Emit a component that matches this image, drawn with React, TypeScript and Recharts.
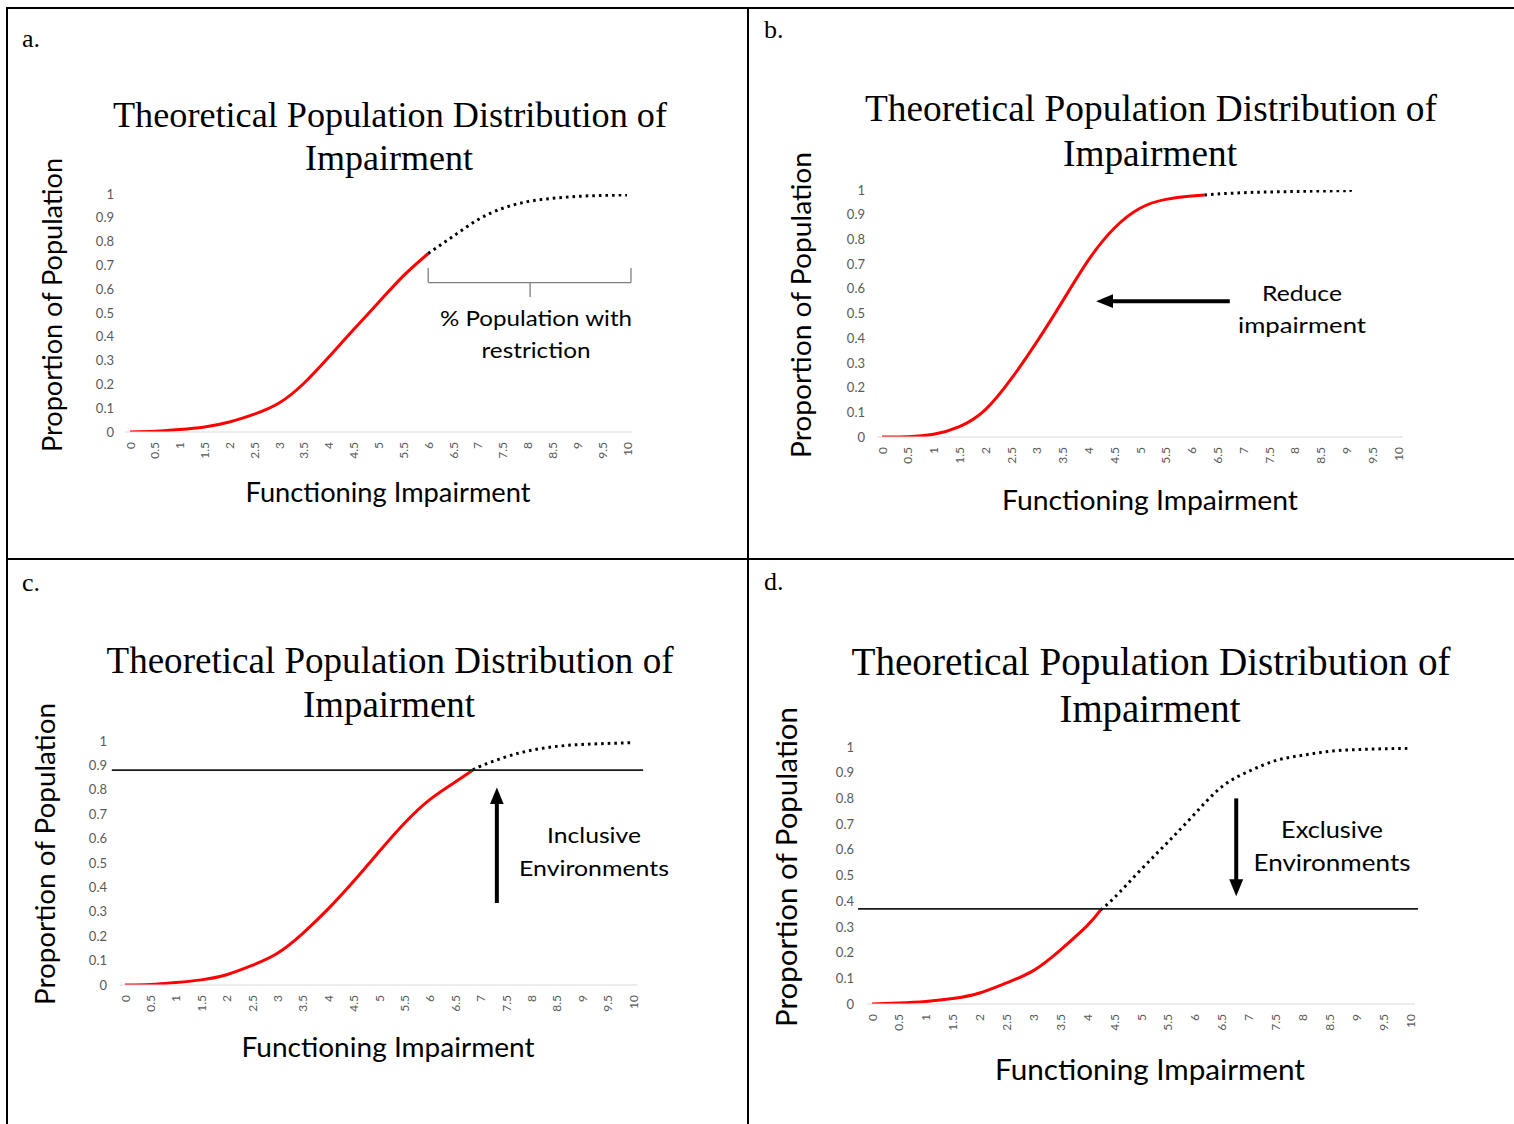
import React from 'react';
import { LineChart, Line, XAxis, YAxis, ReferenceLine } from 'recharts';

// ---------- data ----------
const X_TICKS = [0, 0.5, 1, 1.5, 2, 2.5, 3, 3.5, 4, 4.5, 5, 5.5, 6, 6.5, 7, 7.5, 8, 8.5, 9, 9.5, 10];
const Y_TICKS = [0, 0.1, 0.2, 0.3, 0.4, 0.5, 0.6, 0.7, 0.8, 0.9, 1];

const TITLE_LINE1 = 'Theoretical Population Distribution of';
const TITLE_LINE2 = 'Impairment';
const X_TITLE = 'Functioning Impairment';
const Y_TITLE = 'Proportion of Population';

// panel a
const aSolidX = [0, 0.5, 1, 1.5, 2, 2.5, 3, 3.5, 4, 4.5, 5, 5.5, 6];
const aSolidY = [0, 0.003, 0.01, 0.021, 0.042, 0.075, 0.122, 0.205, 0.315, 0.431, 0.544, 0.656, 0.75];
const aDotX = [6, 6.5, 7, 7.5, 8, 8.5, 9, 9.5, 10];
const aDotY = [0.75, 0.822, 0.892, 0.94, 0.968, 0.982, 0.99, 0.994, 0.996];
// bracket
const aBracketY = [0.689, 0.628, 0.567];
const aBracketX = [6.0, 8.05, 10.08];

// panel b
const bSolidX = [0, 0.5, 1, 1.5, 2, 2.5, 3, 3.5, 4, 4.5, 5, 5.5, 6, 6.25];
const bSolidY = [0, 0.001, 0.011, 0.042, 0.11, 0.234, 0.385, 0.55, 0.716, 0.845, 0.926, 0.962, 0.976, 0.98];
const bDotX = [6.25, 6.5, 7, 7.5, 8, 8.5, 9, 9.07];
const bDotY = [0.98, 0.984, 0.989, 0.992, 0.994, 0.996, 0.997, 0.998];
const bArrowFrom = [6.74, 0.55];
const bArrowTo = [4.47, 0.55];

// panel c
const cSolidX = [0, 0.5, 1, 1.5, 2, 2.5, 3, 3.5, 4, 4.5, 5, 5.5, 6, 6.5, 6.85];
const cSolidY = [0, 0.002, 0.01, 0.021, 0.042, 0.08, 0.13, 0.212, 0.312, 0.425, 0.546, 0.663, 0.76, 0.832, 0.881];
const cDotX = [6.85, 7, 7.5, 8, 8.5, 9, 9.5, 10];
const cDotY = [0.881, 0.897, 0.935, 0.962, 0.978, 0.986, 0.99, 0.993];
const cLevel = 0.881;
const cLevelX = [-0.26, 10.2];
const cArrowFrom = [7.32, 0.336];
const cArrowTo = [7.32, 0.742];

// panel d
const dSolidX = [0, 0.5, 1, 1.5, 2, 2.5, 3, 3.5, 4, 4.25];
const dSolidY = [0, 0.004, 0.01, 0.021, 0.043, 0.082, 0.13, 0.21, 0.305, 0.366];
const dDotX = [4.25, 4.5, 5, 5.5, 6, 6.5, 7, 7.5, 8, 8.5, 9, 9.5, 10];
const dDotY = [0.366, 0.413, 0.523, 0.63, 0.74, 0.845, 0.905, 0.947, 0.968, 0.983, 0.99, 0.993, 0.995];
const dLevel = 0.37;
const dLevelX = [-0.26, 10.15];
const dArrowFrom = [6.77, 0.8];
const dArrowTo = [6.77, 0.483];

const zip = (xs: number[], ys: number[]) => xs.map((x, i) => ({ x, y: ys[i] }));

// ---------- layout ----------
const SANS = 'Lato, "Open Sans", sans-serif';
const SERIF = '"Liberation Serif", "Times New Roman", serif';
const TICK_GREY = '#595959';

type PanelCfg = {
  xL: number; xR: number; yT: number; yB: number; yLabelRight: number;
  solid: { x: number; y: number }[]; dot: { x: number; y: number }[];
  extras: React.ReactNode[];
};

const XTick = (props: any) => {
  const { x, y, payload } = props;
  return (
    <text x={x} y={y} transform={`rotate(-90 ${x} ${y})`} textAnchor="end" dominantBaseline="central"
      fontSize={12} fill={TICK_GREY} fontFamily={SANS}>{String(payload.value)}</text>
  );
};

const YW = 50, PADX = 5, RM = 14, TM = 12, XH = 34;

const Panel = ({ cfg }: { cfg: PanelCfg }) => {
  const left = cfg.xL - PADX - YW;
  const top = cfg.yT - TM;
  const width = YW + PADX * 2 + (cfg.xR - cfg.xL) + RM;
  const height = TM + (cfg.yB - cfg.yT) + XH;
  return (
    <div style={{ position: 'absolute', left, top, width, height }}>
      <LineChart width={width} height={height} margin={{ top: TM, right: RM, bottom: 0, left: 0 }}>
        <XAxis type="number" dataKey="x" domain={[0, 10]} ticks={X_TICKS} interval={0} padding={{ left: PADX, right: PADX }}
          height={XH} tickSize={0} tickMargin={10} tick={<XTick />} axisLine={{ stroke: '#d9d9d9', strokeWidth: 1 }} tickLine={false} allowDataOverflow />
        <YAxis type="number" domain={[0, 1]} ticks={Y_TICKS} interval={0} width={YW} tickSize={0}
          tickMargin={cfg.xL - PADX - cfg.yLabelRight} axisLine={false} tickLine={false} allowDataOverflow
          tick={{ fontSize: 13, fill: TICK_GREY, fontFamily: SANS }} />
        <Line data={cfg.solid} dataKey="y" type="natural" stroke="#ff0000" strokeWidth={3} dot={false} isAnimationActive={false} />
        <Line data={cfg.dot} dataKey="y" type="natural" stroke="#000000" strokeWidth={3} strokeDasharray="2.6 4" dot={false} isAnimationActive={false} />
        {cfg.extras}
      </LineChart>
    </div>
  );
};

const seg = (key: string, x1: number, y1: number, x2: number, y2: number, extra: any) => (
  <ReferenceLine key={key} segment={[{ x: x1, y: y1 }, { x: x2, y: y2 }]} ifOverflow="visible" {...extra} />
);

const bracketStyle = { stroke: '#7f7f7f', strokeWidth: 1.3 };
const arrowStyle = { stroke: '#000', strokeWidth: 4, markerEnd: 'url(#arrowHead)' };
const levelStyle = { stroke: '#1a1a1a', strokeWidth: 1.8 };

const panels: Record<string, PanelCfg> = {
  a: {
    xL: 130, xR: 627, yT: 194, yB: 432, yLabelRight: 114,
    solid: zip(aSolidX, aSolidY), dot: zip(aDotX, aDotY),
    extras: [
      seg('a1', aBracketX[0], aBracketY[0], aBracketX[0], aBracketY[1], bracketStyle),
      seg('a2', aBracketX[0], aBracketY[1], aBracketX[2], aBracketY[1], bracketStyle),
      seg('a3', aBracketX[2], aBracketY[0], aBracketX[2], aBracketY[1], bracketStyle),
      seg('a4', aBracketX[1], aBracketY[1], aBracketX[1], aBracketY[2], bracketStyle),
    ],
  },
  b: {
    xL: 882, xR: 1398, yT: 190, yB: 437, yLabelRight: 865,
    solid: zip(bSolidX, bSolidY), dot: zip(bDotX, bDotY),
    extras: [seg('b1', bArrowFrom[0], bArrowFrom[1], bArrowTo[0], bArrowTo[1], arrowStyle)],
  },
  c: {
    xL: 125, xR: 633, yT: 741, yB: 985, yLabelRight: 107,
    solid: zip(cSolidX, cSolidY), dot: zip(cDotX, cDotY),
    extras: [
      seg('c0', cLevelX[0], cLevel, cLevelX[1], cLevel, levelStyle),
      seg('c1', cArrowFrom[0], cArrowFrom[1], cArrowTo[0], cArrowTo[1], arrowStyle),
    ],
  },
  d: {
    xL: 872, xR: 1410, yT: 747, yB: 1004, yLabelRight: 854,
    solid: zip(dSolidX, dSolidY), dot: zip(dDotX, dDotY),
    extras: [
      seg('d0', dLevelX[0], dLevel, dLevelX[1], dLevel, levelStyle),
      seg('d1', dArrowFrom[0], dArrowFrom[1], dArrowTo[0], dArrowTo[1], arrowStyle),
    ],
  },
};

type TextCfg = { t: string; x: number; y: number; w: number; fs: number; rot?: boolean; serif?: boolean };
const texts: TextCfg[] = [
  // panel a
  { t: TITLE_LINE1, x: 390, y: 115, w: 554, fs: 36, serif: true },
  { t: TITLE_LINE2, x: 389, y: 158, w: 168, fs: 36, serif: true },
  { t: Y_TITLE, x: 52, y: 305, w: 294, fs: 26, rot: true },
  { t: X_TITLE, x: 388, y: 492, w: 285, fs: 26 },
  { t: '% Population with', x: 536, y: 317, w: 192, fs: 22 },
  { t: 'restriction', x: 536, y: 349, w: 109, fs: 22 },
  // panel b
  { t: TITLE_LINE1, x: 1151, y: 108, w: 572, fs: 37, serif: true },
  { t: TITLE_LINE2, x: 1150, y: 153, w: 174, fs: 37, serif: true },
  { t: Y_TITLE, x: 800, y: 305, w: 306, fs: 27, rot: true },
  { t: X_TITLE, x: 1150, y: 499, w: 296, fs: 27 },
  { t: 'Reduce', x: 1302, y: 292, w: 80, fs: 22 },
  { t: 'impairment', x: 1302, y: 324, w: 128, fs: 22 },
  // panel c
  { t: TITLE_LINE1, x: 390, y: 660, w: 567, fs: 37, serif: true },
  { t: TITLE_LINE2, x: 389, y: 704, w: 172, fs: 37, serif: true },
  { t: Y_TITLE, x: 44, y: 854, w: 302, fs: 27, rot: true },
  { t: X_TITLE, x: 388, y: 1046, w: 293, fs: 27 },
  { t: 'Inclusive', x: 594, y: 834, w: 94, fs: 22 },
  { t: 'Environments', x: 594, y: 867, w: 150, fs: 22 },
  // panel d
  { t: TITLE_LINE1, x: 1151, y: 661, w: 599, fs: 39, serif: true },
  { t: TITLE_LINE2, x: 1150, y: 708, w: 181, fs: 39, serif: true },
  { t: Y_TITLE, x: 786, y: 867, w: 320, fs: 28, rot: true },
  { t: X_TITLE, x: 1150, y: 1069, w: 310, fs: 28 },
  { t: 'Exclusive', x: 1332, y: 829, w: 102, fs: 23 },
  { t: 'Environments', x: 1332, y: 862, w: 157, fs: 23 },
];

const letters = [
  { t: 'a.', x: 22, y: 38 },
  { t: 'b.', x: 764, y: 29 },
  { t: 'c.', x: 22, y: 582 },
  { t: 'd.', x: 764, y: 581 },
];

export default function App() {
  return (
    <div style={{ position: 'absolute', left: 0, top: 0, width: 1514, height: 1124, background: '#fff', overflow: 'hidden' }}>
      <svg width={0} height={0} style={{ position: 'absolute' }}>
        <defs>
          <marker id="arrowHead" markerUnits="userSpaceOnUse" markerWidth={18} markerHeight={16} refX={0.5} refY={8} orient="auto">
            <path d="M0,1 L17,8 L0,15 Z" fill="#000" />
          </marker>
        </defs>
      </svg>
      <Panel cfg={panels.a} />
      <Panel cfg={panels.b} />
      <Panel cfg={panels.c} />
      <Panel cfg={panels.d} />
      <svg width={1514} height={1124} style={{ position: 'absolute', left: 0, top: 0, pointerEvents: 'none' }}>
        <line x1={6} y1={8} x2={1514} y2={8} stroke="#000" strokeWidth={2} />
        <line x1={7} y1={7} x2={7} y2={1124} stroke="#000" strokeWidth={2} />
        <line x1={748} y1={7} x2={748} y2={1124} stroke="#000" strokeWidth={2} />
        <line x1={6} y1={559} x2={1514} y2={559} stroke="#000" strokeWidth={2} />
        {letters.map((l) => (
          <text key={l.t} x={l.x} y={l.y} dominantBaseline="central" fontFamily={SERIF} fontSize={26} fill="#000">{l.t}</text>
        ))}
        {texts.map((c, i) => (
          <text key={i} x={c.x} y={c.y} textAnchor="middle" dominantBaseline="central"
            transform={c.rot ? `rotate(-90 ${c.x} ${c.y})` : undefined}
            fontFamily={c.serif ? SERIF : SANS} fontSize={c.fs} fill="#000"
            textLength={c.w} lengthAdjust="spacingAndGlyphs">{c.t}</text>
        ))}
      </svg>
    </div>
  );
}
